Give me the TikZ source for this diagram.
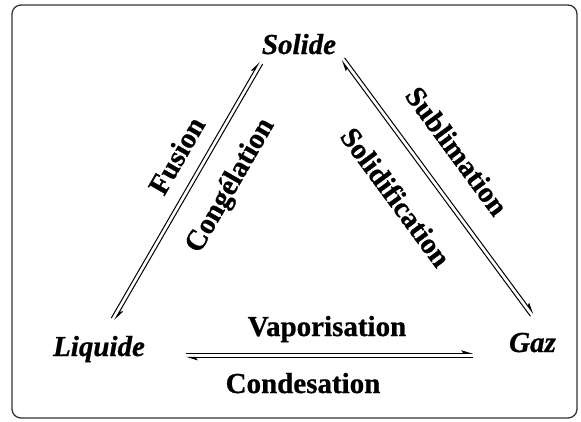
\documentclass[tikz,border=0pt]{standalone}
\usepackage{fontspec}
\setmainfont{Liberation Serif}[BoldFeatures={FakeBold=0.8},BoldItalicFeatures={FakeBold=0.8}]
\usetikzlibrary{arrows.meta}
\begin{document}
\begin{tikzpicture}[x=1pt,y=-1pt,
  harp/.style={line width=1pt,-{Stealth[harpoon,length=10pt,width=6pt,inset=2pt]}},
  state/.style={inner sep=0pt,anchor=base,font=\fontsize{29}{32}\selectfont\bfseries\itshape},
  lab/.style={inner sep=0pt,font=\fontsize{29}{32}\selectfont\bfseries}]
\useasboundingbox (0,0) rectangle (581,421);
\draw[line width=1.3pt,draw=black!80,rounded corners=9pt] (12,5) rectangle (577,418);
% states
\node[state] (sol) at (299,54) {Solide};
\node[state] (liq) at (99,356) {Liquide};
\node[state] (gaz) at (532.5,352) {Gaz};
% connector end points
\coordinate (l1a) at (111.3,318);
\coordinate (l1b) at (259.3,62);
\coordinate (l2a) at (114.7,320);
\coordinate (l2b) at (262.7,64);
\coordinate (r1a) at (344.6,57.8);
\coordinate (r1b) at (533.6,313.8);
\coordinate (r2a) at (341.4,60.2);
\coordinate (r2b) at (530.4,316.2);
\coordinate (b1a) at (186,353.3);
\coordinate (b1b) at (473,353.3);
\coordinate (b2a) at (186,357.3);
\coordinate (b2b) at (473,357.3);
% arrows
\draw[harp] (l1a) -- (l1b);
\draw[harp] (l2b) -- (l2a);
\draw[harp] (r1a) -- (r1b);
\draw[harp] (r2b) -- (r2a);
\draw[harp] (b1a) -- (b1b);
\draw[harp] (b2b) -- (b2a);
% labels
\node[lab,rotate=60] (fus) at (176.5,155.5) {Fusion};
\node[lab,rotate=60] (con) at (231,186) {Congélation};
\node[lab,rotate=-53.6] (sub) at (457,151) {Sublimation};
\node[lab,rotate=-53.6] (sdf) at (396,197) {Solidification};
\node[lab,anchor=base] (vap) at (327,336) {Vaporisation};
\node[lab,anchor=base] (cds) at (303,393) {Condesation};
\end{tikzpicture}
\end{document}
